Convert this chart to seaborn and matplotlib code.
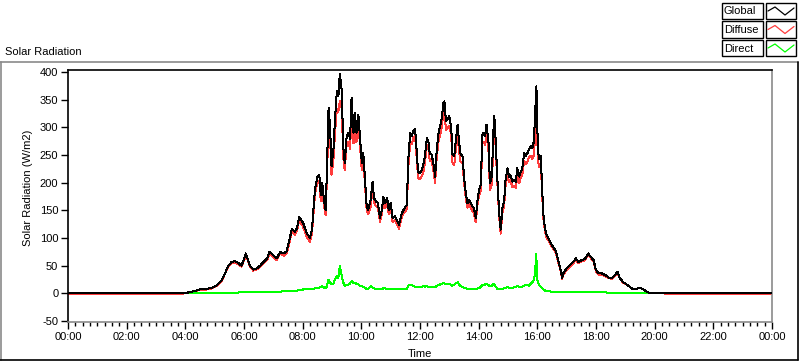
import numpy as np
import pandas as pd
import matplotlib
matplotlib.use("Agg")
import matplotlib.pyplot as plt
from matplotlib.lines import Line2D
from matplotlib.patches import Rectangle
from matplotlib.ticker import MultipleLocator, FuncFormatter
import seaborn as sns

# ---------------- data (minutes after midnight, W/m2) ----------------
time_min = [0, 230, 236, 243, 253, 270, 284, 294, 304, 314,
            321, 328, 335, 341, 348, 355, 364, 372, 379, 386,
            393, 400, 408, 412, 420, 427, 434, 442, 447, 452,
            458, 464, 468, 473, 478, 481, 488, 495, 499, 502,
            505, 510, 514, 517, 520, 524, 527, 529, 533, 536,
            539, 543, 546, 550, 553, 556, 560, 563, 566, 570,
            574, 577, 580, 584, 587, 590, 594, 597, 601, 604,
            608, 611, 614, 619, 623, 626, 630, 634, 638, 642,
            645, 649, 653, 656, 660, 664, 669, 677, 683, 687,
            693, 696, 700, 703, 706, 710, 713, 716, 720, 724,
            727, 730, 734, 737, 740, 744, 748, 751, 754, 758,
            761, 764, 768, 770, 773, 776, 780, 784, 786, 790,
            793, 797, 800, 803, 807, 810, 814, 817, 820, 824,
            827, 830, 834, 838, 841, 844, 848, 851, 853, 856,
            860, 863, 867, 870, 872, 875, 878, 882, 885, 889,
            892, 895, 899, 902, 905, 909, 912, 916, 919, 923,
            926, 929, 933, 936, 940, 943, 946, 950, 953, 955,
            958, 959, 961, 964, 967, 970, 972, 976, 979, 984,
            989, 994, 998, 1003, 1006, 1011, 1013, 1020, 1027, 1034,
            1039, 1044, 1051, 1058, 1064, 1069, 1075, 1080, 1085, 1092,
            1099, 1105, 1112, 1119, 1124, 1129, 1136, 1143, 1150, 1156,
            1163, 1170, 1177, 1184, 1190, 1200, 1220, 1221, 1440]

global_rad = [0, 0, 0, 1, 3, 7, 8, 10, 14, 23,
              36, 50, 57, 58, 55, 50, 72, 50, 43, 45,
              50, 57, 64, 75, 69, 63, 75, 72, 76, 93,
              117, 111, 117, 138, 131, 127, 109, 100, 115, 151,
              187, 211, 214, 178, 199, 166, 151, 205, 335, 302,
              230, 260, 314, 365, 356, 397, 365, 266, 235, 284,
              290, 278, 353, 290, 326, 290, 323, 284, 235, 254,
              199, 157, 151, 169, 202, 172, 166, 163, 136, 151,
              175, 163, 172, 151, 163, 136, 139, 124, 145, 152,
              160, 242, 290, 284, 293, 297, 260, 220, 217, 224,
              233, 248, 281, 275, 251, 251, 230, 211, 257, 290,
              302, 314, 344, 347, 311, 314, 320, 299, 251, 248,
              275, 305, 272, 251, 248, 211, 178, 163, 169, 163,
              157, 154, 136, 172, 187, 196, 290, 287, 284, 305,
              275, 199, 211, 290, 320, 272, 211, 145, 115, 157,
              166, 205, 226, 211, 214, 202, 205, 202, 226, 211,
              220, 224, 254, 248, 254, 260, 266, 263, 275, 314,
              374, 350, 260, 242, 248, 187, 145, 115, 106, 97,
              88, 82, 76, 58, 49, 28, 36, 45, 51, 57,
              63, 57, 60, 63, 72, 66, 60, 42, 36, 36,
              33, 29, 27, 33, 39, 27, 20, 16, 11, 7,
              8, 10, 7, 3, 0, 0, 0, 0, 0]

diffuse_rad = [-2, -2, 0, 1, 2.5, 6, 7, 9, 13, 22,
               35, 48, 55, 56, 53, 48, 69, 48, 41, 43,
               48, 54, 61, 72, 66, 60, 72, 68, 72, 88,
               112, 106, 112, 132, 125, 120, 102, 93, 107, 143,
               178, 201, 204, 166, 186, 156, 142, 193, 310, 282,
               214, 242, 289, 334, 328, 347, 334, 246, 222, 269,
               274, 260, 331, 271, 307, 273, 307, 270, 222, 242,
               189, 150, 143, 156, 192, 163, 158, 155, 129, 143,
               166, 154, 164, 143, 156, 129, 132, 117, 138, 145,
               152, 228, 274, 269, 280, 285, 248, 209, 206, 212,
               220, 236, 268, 263, 240, 240, 218, 200, 244, 275,
               286, 298, 325, 329, 295, 298, 303, 284, 237, 232,
               257, 285, 256, 238, 236, 201, 169, 155, 161, 155,
               149, 146, 128, 163, 177, 185, 274, 272, 268, 288,
               260, 186, 197, 273, 304, 260, 203, 138, 108, 149,
               157, 195, 215, 201, 204, 192, 194, 191, 213, 199,
               209, 212, 240, 233, 238, 246, 249, 243, 250, 279,
               302, 320, 240, 228, 236, 178, 138, 110, 101, 93,
               85, 79, 73, 55, 47, 26, 34, 42, 49, 55,
               60, 55, 58, 60, 70, 64, 58, 40, 34, 34,
               31, 28, 26, 32, 38, 26, 19, 16, 11, 7,
               8, 10, 7, 3, 0, 0, 0, -2, -2]

direct_rad = [0, 0, 0, 0, 0.5, 1, 1, 1, 1, 1,
              1, 1, 1, 1.5, 1.5, 2, 2, 2, 2, 2,
              2, 2.5, 2.5, 2.5, 3, 3, 3, 4, 4, 5,
              5, 5, 5, 6, 6, 7, 7, 7, 8, 8,
              9, 10, 10, 12, 13, 10, 9, 12, 25, 20,
              16, 18, 25, 31, 28, 50, 31, 20, 13, 15,
              16, 18, 22, 19, 19, 17, 16, 14, 13, 12,
              10, 7, 8, 13, 10, 9, 8, 8, 7, 8,
              9, 9, 8, 8, 7, 7, 7, 7, 7, 7,
              8, 14, 16, 15, 13, 12, 12, 11, 11, 12,
              13, 12, 13, 12, 11, 11, 12, 11, 13, 15,
              16, 16, 19, 18, 16, 16, 17, 15, 14, 16,
              18, 20, 16, 13, 12, 10, 9, 8, 8, 8,
              8, 8, 8, 9, 10, 11, 16, 15, 16, 17,
              15, 13, 14, 17, 16, 12, 8, 7, 7, 8,
              9, 10, 11, 10, 10, 10, 11, 11, 13, 12,
              11, 12, 14, 15, 16, 14, 17, 20, 25, 35,
              72, 30, 20, 14, 12, 9, 7, 5, 5, 4,
              3, 3, 3, 3, 2, 2, 2, 3, 2, 2,
              3, 2, 2, 3, 2, 2, 2, 2, 2, 2,
              2, 1, 1, 1, 1, 1, 1, 0, 0, 0,
              0, 0, 0, 0, 0, 0, 0, 0, 0]

series_names = ["Global", "Diffuse", "Direct"]
series_colors = ["#000000", "#ff3c3c", "#00ff00"]

df = pd.DataFrame({
    "hours": np.array(time_min) / 60.0,
    "Global": global_rad,
    "Diffuse": diffuse_rad,
    "Direct": direct_rad,
})

# ---------------- style ----------------
sns.set_theme(style="white")
plt.rcParams["font.family"] = ["Liberation Sans", "DejaVu Sans"]
plt.rcParams["font.size"] = 8

W, H = 800, 361
fig = plt.figure(figsize=(W / 100, H / 100), dpi=100)
fig.patch.set_facecolor("white")


def fx(x):
    return x / W


def fy(y):
    return 1 - y / H


ax = fig.add_axes([fx(68), fy(322), (772 - 68) / W, (322 - 70) / H])
ax.set_facecolor("white")

zorders = {"Global": 3, "Diffuse": 1, "Direct": 2}
for name, col in zip(series_names, series_colors):
    sns.lineplot(data=df, x="hours", y=name, ax=ax, color=col, lw=0.72,
                 estimator=None, sort=False, zorder=zorders[name], legend=False,
                 antialiased=False)

ax.set_xlim(0, 24)
ax.set_ylim(-51.8, 403.6)
ax.xaxis.set_major_locator(MultipleLocator(2))
ax.xaxis.set_minor_locator(MultipleLocator(0.25))
ax.yaxis.set_major_locator(MultipleLocator(50))
ax.xaxis.set_major_formatter(FuncFormatter(lambda v, p: f"{int(round(v)) % 24:02d}:00"))
ax.yaxis.set_major_formatter(FuncFormatter(lambda v, p: f"{int(round(v))}"))

ax.tick_params(axis="x", which="major", direction="out", length=5, width=1,
               color="black", labelsize=8, pad=2, bottom=True, labelcolor="black")
ax.tick_params(axis="x", which="minor", direction="out", length=3, width=1,
               color="black", bottom=True)
ax.tick_params(axis="y", which="major", direction="out", length=5, width=1,
               color="black", labelsize=8, pad=2, left=True, labelcolor="black")
ax.grid(False)

for side in ["top", "left"]:
    ax.spines[side].set_color("black")
    ax.spines[side].set_linewidth(1.2)
for side in ["right", "bottom"]:
    ax.spines[side].set_color("#8a8a8a")
    ax.spines[side].set_linewidth(1.2)

ax.set_xlabel("Time", fontsize=8, color="black")
ax.xaxis.set_label_coords(0.5, (322 - 349) / 252)
ax.set_ylabel("Solar Radiation (W/m2)", fontsize=8, color="black")
ax.yaxis.set_label_coords((33 - 68) / 704, (322 - 188) / 252)

# title
fig.text(fx(5), fy(52), "Solar Radiation", ha="left", va="center", fontsize=8, color="black")

# panel frame
def fline(x0, y0, x1, y1, color, lw=1.0):
    fig.add_artist(Line2D([fx(x0), fx(x1)], [fy(y0), fy(y1)], color=color,
                          lw=lw, transform=fig.transFigure))

fline(0, 61.5, 798, 61.5, "#8a8a8a", 1.2)
fline(0.6, 61.5, 0.6, 360, "#8a8a8a", 1.2)
fline(0, 359.5, 798, 359.5, "black", 1.2)
fline(797.5, 61.5, 797.5, 360, "black", 1.2)

# legend (manual, LabVIEW style)
row_tops = [3, 21.5, 40]
for name, col, top in zip(series_names, series_colors, row_tops):
    h = 16
    fig.add_artist(Rectangle((fx(722), fy(top + h)), (763 - 722) / W, h / H,
                             transform=fig.transFigure, facecolor="white",
                             edgecolor="black", lw=1.0))
    fig.text(fx(724), fy(top + h / 2 + 0.5), name, ha="left", va="center",
             fontsize=8, color="black")
    fig.add_artist(Rectangle((fx(766), fy(top + h)), (796 - 766) / W, h / H,
                             transform=fig.transFigure, facecolor="white",
                             edgecolor="black", lw=1.0))
    zx = [768, 775, 785, 794]
    zy = [top + 8, top + 4, top + 12, top + 5]
    fig.add_artist(Line2D([fx(v) for v in zx], [fy(v) for v in zy], color=col,
                          lw=0.9, transform=fig.transFigure))

fig.savefig("out.png", dpi=100, facecolor="white")
